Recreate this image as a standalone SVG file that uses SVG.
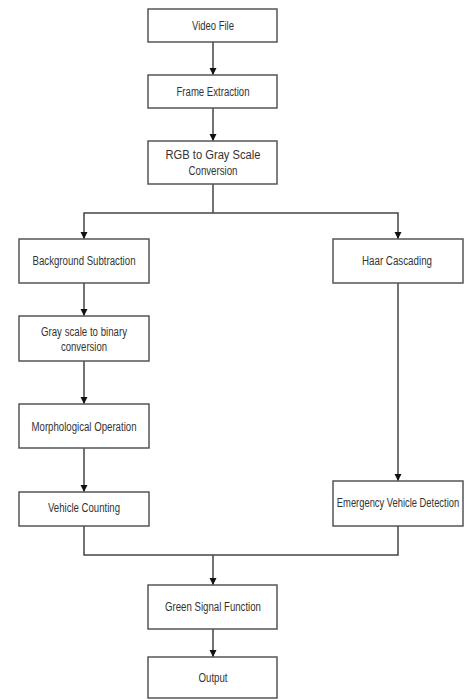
<svg xmlns="http://www.w3.org/2000/svg" width="466" height="700" viewBox="0 0 466 700">
<defs>
<style>
.box{fill:#fff;stroke:#555;stroke-width:1.5}
.lbl{font-family:"Liberation Sans",Arial,sans-serif;font-size:12.5px;fill:#333;text-anchor:middle;dominant-baseline:central}
.ln{fill:none;stroke:#444;stroke-width:1.5}
</style>
<marker id="ah" markerWidth="8" markerHeight="8" refX="7" refY="3.5" orient="auto" markerUnits="userSpaceOnUse">
<path d="M0,0 L7,3.5 L0,7 z" fill="#111"/>
</marker>
</defs>
<rect width="466" height="700" fill="#fff"/>
<g id="connectors">
<path class="ln" d="M213,42 V75" marker-end="url(#ah)"/>
<path class="ln" d="M213,108 V141" marker-end="url(#ah)"/>
<path class="ln" d="M213,184 V213"/>
<path class="ln" d="M213,213 H84 V239" marker-end="url(#ah)"/>
<path class="ln" d="M213,213 H398 V239" marker-end="url(#ah)"/>
<path class="ln" d="M84,283 V316" marker-end="url(#ah)"/>
<path class="ln" d="M84,361 V404" marker-end="url(#ah)"/>
<path class="ln" d="M84,448 V492" marker-end="url(#ah)"/>
<path class="ln" d="M398,283 V481" marker-end="url(#ah)"/>
<path class="ln" d="M84,526 V555 H398 V526"/>
<path class="ln" d="M213,555 V585" marker-end="url(#ah)"/>
<path class="ln" d="M213,629 V657" marker-end="url(#ah)"/>
</g>
<g id="video-file"><rect class="box" x="148" y="9" width="129" height="33"/><text class="lbl" x="213" y="26" textLength="42" lengthAdjust="spacingAndGlyphs">Video File</text></g>
<g id="frame-extraction"><rect class="box" x="148" y="75" width="129" height="33"/><text class="lbl" x="213" y="92" textLength="73" lengthAdjust="spacingAndGlyphs">Frame Extraction</text></g>
<g id="rgb-gray"><rect class="box" x="148" y="141" width="129" height="43"/><text class="lbl" x="213" y="155" textLength="95" lengthAdjust="spacingAndGlyphs">RGB to Gray Scale</text><text class="lbl" x="213" y="171" textLength="49" lengthAdjust="spacingAndGlyphs">Conversion</text></g>
<g id="background-subtraction"><rect class="box" x="19" y="239" width="130" height="44"/><text class="lbl" x="84" y="261" textLength="103" lengthAdjust="spacingAndGlyphs">Background Subtraction</text></g>
<g id="gray-binary"><rect class="box" x="19" y="316" width="130" height="45"/><text class="lbl" x="84" y="332" textLength="86" lengthAdjust="spacingAndGlyphs">Gray scale to binary</text><text class="lbl" x="84" y="347" textLength="46" lengthAdjust="spacingAndGlyphs">conversion</text></g>
<g id="morphological"><rect class="box" x="19" y="404" width="130" height="44"/><text class="lbl" x="84" y="427" textLength="105" lengthAdjust="spacingAndGlyphs">Morphological Operation</text></g>
<g id="vehicle-counting"><rect class="box" x="19" y="492" width="130" height="34"/><text class="lbl" x="84" y="508" textLength="72" lengthAdjust="spacingAndGlyphs">Vehicle Counting</text></g>
<g id="haar-cascading"><rect class="box" x="333" y="239" width="130" height="44"/><text class="lbl" x="397" y="261" textLength="70" lengthAdjust="spacingAndGlyphs">Haar Cascading</text></g>
<g id="emergency"><rect class="box" x="333" y="481" width="130" height="45"/><text class="lbl" transform="translate(398,502) scale(0.75,1)" x="0" y="0">Emergency Vehicle Detection</text></g>
<g id="green-signal"><rect class="box" x="148" y="585" width="129" height="44"/><text class="lbl" x="213" y="607" textLength="96" lengthAdjust="spacingAndGlyphs">Green Signal Function</text></g>
<g id="output"><rect class="box" x="148" y="657" width="129" height="41"/><text class="lbl" x="213" y="678" textLength="29" lengthAdjust="spacingAndGlyphs">Output</text></g>
</svg>
